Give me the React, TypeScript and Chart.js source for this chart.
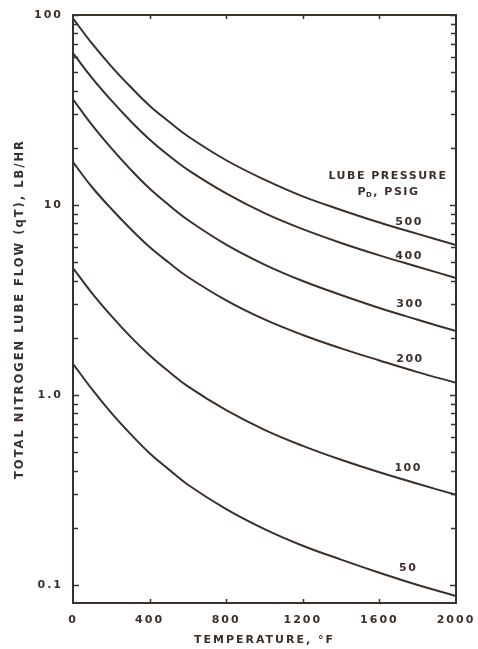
import React, { useEffect, useRef } from 'react';
import { Chart, registerables } from 'chart.js';

Chart.register(...registerables);

// ---- data ----
const temperatures = [0, 100, 200, 300, 400, 500, 600, 800, 1000, 1200, 1400, 1600, 1800, 2000];
const flow500 = [96, 70.6, 53.7, 41.9, 33.3, 27.5, 23.0, 17.2, 13.6, 11.1, 9.42, 8.09, 7.05, 6.15];
const flow400 = [63, 46.5, 35.5, 27.7, 22.1, 18.2, 15.3, 11.5, 9.06, 7.46, 6.31, 5.43, 4.73, 4.13];
const flow300 = [36, 26.3, 19.9, 15.4, 12.2, 10.0, 8.34, 6.19, 4.86, 3.98, 3.36, 2.87, 2.49, 2.17];
const flow200 = [16.8, 12.4, 9.55, 7.5, 6.01, 4.98, 4.18, 3.15, 2.5, 2.07, 1.76, 1.52, 1.32, 1.16];
const flow100 = [4.66, 3.43, 2.61, 2.03, 1.62, 1.33, 1.11, 0.832, 0.656, 0.54, 0.456, 0.392, 0.341, 0.298];
const flow50 = [1.46, 1.07, 0.805, 0.624, 0.494, 0.406, 0.337, 0.251, 0.197, 0.161, 0.136, 0.116, 0.1, 0.0875];

const pressureLabels = ['500', '400', '300', '200', '100', '50'];
const pressureSeries = [flow500, flow400, flow300, flow200, flow100, flow50];
// where each curve label sits (temperature, flow)
const curveLabelT = [1755, 1755, 1760, 1760, 1750, 1750];
const curveLabelFlow = [8.1, 5.4, 3.0, 1.54, 0.41, 0.123];

const legendTitleLine1 = 'LUBE PRESSURE';
const legendTitleLine2 = ['P', 'D', ', PSIG'];
const legendTitleT = [1645, 1650];
const legendTitleFlow = [14.2, 11.7];

const yTickValues = [0.1, 1, 10, 100];
const yTickLabels = ['0.1', '1.0', '10', '100'];
const yMinorDecades = [0.1, 1, 10];
const xTickValues = [0, 400, 800, 1200, 1600, 2000];

const xTitle = 'TEMPERATURE, °F';
const yTitle = 'TOTAL NITROGEN LUBE FLOW (qT), LB/HR';

const INK = '#3b302a';
const FONT = '"DejaVu Sans", sans-serif';

const framePlugin = {
  id: 'frameAndLabels',
  beforeDraw(chart: any) {
    chart.ctx.letterSpacing = '2px';
  },
  afterDatasetsDraw(chart: any) {
    const ctx = chart.ctx;
    const { left, right, top, bottom } = chart.chartArea;
    const xs = chart.scales.x;
    const ys = chart.scales.y;
    ctx.save();
    ctx.strokeStyle = INK;
    // frame
    ctx.lineWidth = 2;
    ctx.strokeRect(left, top, right - left, bottom - top);
    // inward log ticks on left and right
    ctx.lineWidth = 1.5;
    const yVals: number[] = [];
    yMinorDecades.forEach((d) => {
      for (let k = 1; k <= 9; k++) yVals.push(k * d);
    });
    yVals.push(100);
    yVals.forEach((v) => {
      const y = Math.round(ys.getPixelForValue(v)) + 0.5;
      const len = yTickValues.includes(v) ? 6 : 5;
      ctx.beginPath();
      ctx.moveTo(left, y);
      ctx.lineTo(left + len, y);
      ctx.moveTo(right, y);
      ctx.lineTo(right - len, y);
      ctx.stroke();
    });
    // inward ticks on top and bottom
    xTickValues.slice(1, -1).forEach((v) => {
      const x = Math.round(xs.getPixelForValue(v)) + 0.5;
      ctx.beginPath();
      ctx.moveTo(x, bottom);
      ctx.lineTo(x, bottom - 4);
      ctx.moveTo(x, top);
      ctx.lineTo(x, top + 4);
      ctx.stroke();
    });
    // curve labels
    ctx.fillStyle = INK;
    ctx.font = `bold 11px ${FONT}`;
    ctx.letterSpacing = '1.5px';
    ctx.textAlign = 'center';
    ctx.textBaseline = 'middle';
    pressureLabels.forEach((lab, i) => {
      ctx.fillText(lab, xs.getPixelForValue(curveLabelT[i]), ys.getPixelForValue(curveLabelFlow[i]));
    });
    // legend title
    ctx.fillText(legendTitleLine1, xs.getPixelForValue(legendTitleT[0]), ys.getPixelForValue(legendTitleFlow[0]));
    const cx = xs.getPixelForValue(legendTitleT[1]);
    const cy = ys.getPixelForValue(legendTitleFlow[1]);
    ctx.font = `bold 11px ${FONT}`;
    const wP = ctx.measureText(legendTitleLine2[0]).width;
    const wRest = ctx.measureText(legendTitleLine2[2]).width;
    ctx.font = `bold 7px ${FONT}`;
    const wSub = ctx.measureText(legendTitleLine2[1]).width;
    let x0 = cx - (wP + wSub + wRest) / 2;
    ctx.textAlign = 'left';
    ctx.font = `bold 11px ${FONT}`;
    ctx.fillText(legendTitleLine2[0], x0, cy);
    x0 += wP - 1;
    ctx.font = `bold 7px ${FONT}`;
    ctx.fillText(legendTitleLine2[1], x0, cy + 3);
    x0 += wSub;
    ctx.font = `bold 11px ${FONT}`;
    ctx.fillText(legendTitleLine2[2], x0, cy);
    ctx.restore();
  },
};

export default function App() {
  const canvasRef = useRef<HTMLCanvasElement | null>(null);

  useEffect(() => {
    document.body.style.margin = '0';
    const canvas = canvasRef.current;
    if (!canvas) return;
    const datasets = pressureSeries.map((series, i) => ({
      label: pressureLabels[i],
      data: temperatures.map((t, j) => ({ x: t, y: series[j] })),
      borderColor: INK,
      backgroundColor: INK,
      borderWidth: 2,
      pointRadius: 0,
      fill: false,
      tension: 0.4,
    }));
    const chart = new Chart(canvas, {
      type: 'line',
      data: { datasets },
      options: {
        animation: false,
        responsive: false,
        devicePixelRatio: 1,
        layout: { padding: { left: 0, top: 15, right: 22, bottom: 0 } },
        plugins: { legend: { display: false }, tooltip: { enabled: false } },
        scales: {
          x: {
            type: 'linear',
            min: 0,
            max: 2000,
            grid: { display: false },
            border: { display: false },
            afterBuildTicks: (scale: any) => {
              scale.ticks = xTickValues.map((v) => ({ value: v }));
            },
            afterFit: (scale: any) => {
              scale.height = 46;
            },
            ticks: {
              padding: 3,
              color: INK,
              font: { family: FONT, weight: 'bold', size: 11 },
              maxRotation: 0,
              autoSkip: false,
              callback: (v: any) => String(v),
            },
            title: {
              display: true,
              text: xTitle,
              color: INK,
              font: { family: FONT, weight: 'bold', size: 11 },
              padding: { top: 0, bottom: 2 },
            },
          },
          y: {
            type: 'logarithmic',
            min: 0.0804,
            max: 100,
            grid: { display: false },
            border: { display: false },
            afterBuildTicks: (scale: any) => {
              scale.ticks = yTickValues.map((v) => ({ value: v }));
            },
            afterFit: (scale: any) => {
              scale.width = 73;
            },
            ticks: {
              padding: 2,
              color: INK,
              autoSkip: false,
              font: { family: FONT, weight: 'bold', size: 11 },
              callback: (_v: any, i: number) => yTickLabels[i],
            },
            title: {
              display: true,
              text: yTitle,
              color: INK,
              font: { family: FONT, weight: 'bold', size: 11.5 },
              padding: { top: 13, bottom: 0 },
            },
          },
        },
      },
      plugins: [framePlugin],
    });
    return () => chart.destroy();
  }, []);

  return (
    <div style={{ width: 478, height: 649, background: '#ffffff' }}>
      <canvas ref={canvasRef} width={478} height={649} style={{ display: 'block' }} />
    </div>
  );
}
